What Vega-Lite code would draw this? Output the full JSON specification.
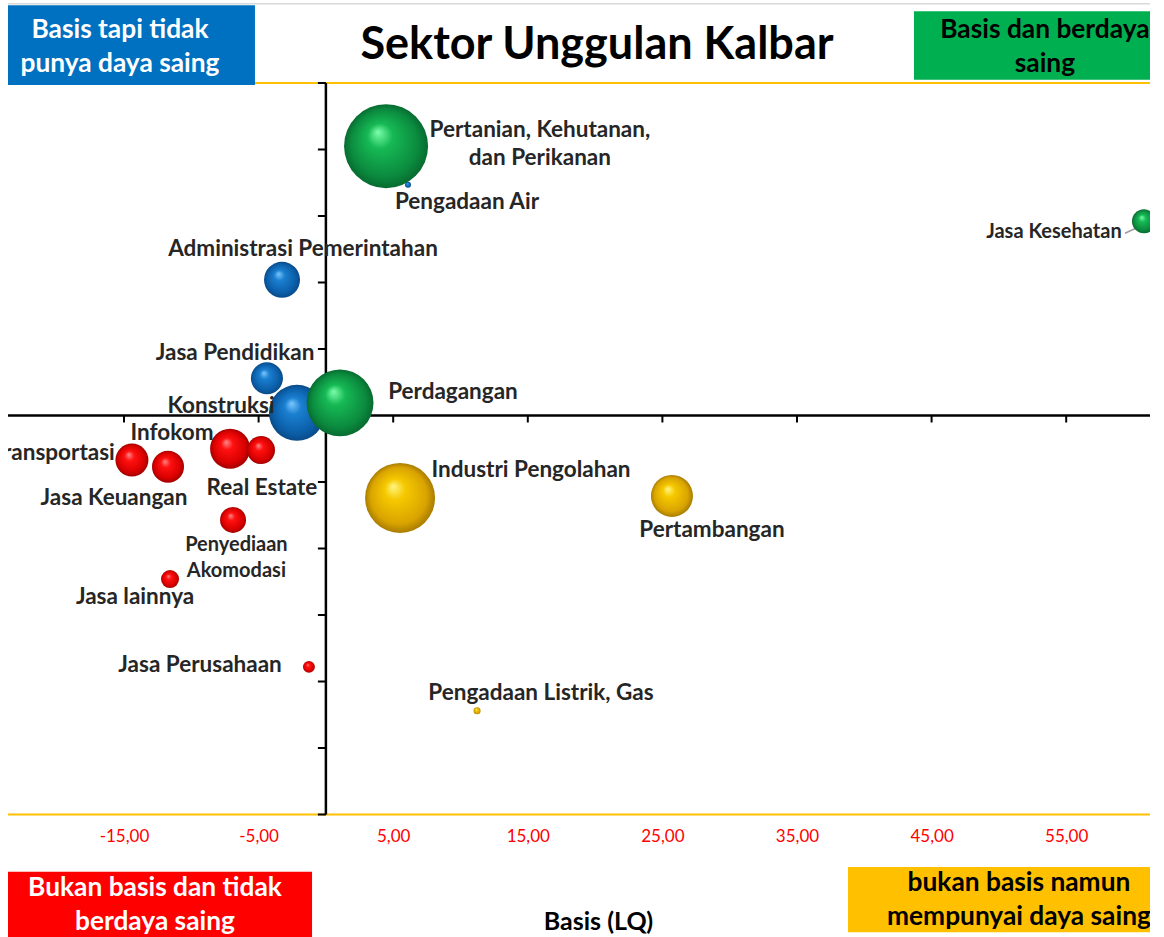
{
  "$schema": "https://vega.github.io/schema/vega-lite/v6.json",
  "width": 1142,
  "height": 937,
  "autosize": {"type": "none"},
  "padding": {"left": 8, "top": 0, "right": 14, "bottom": 0},
  "background": "white",
  "config": {"view": {"stroke": null}, "font": "Lato"},
  "datasets": {
    "sektor": [
      {"sektor": "Pertanian, Kehutanan, dan Perikanan", "kategori": "Basis dan berdaya saing", "x": 4.47, "y": 4.05, "nilai": 25.2},
      {"sektor": "Perdagangan", "kategori": "Basis dan berdaya saing", "x": 1.05, "y": 0.19, "nilai": 16.0},
      {"sektor": "Jasa Kesehatan", "kategori": "Basis dan berdaya saing", "x": 60.78, "y": 2.92, "nilai": 2.06},
      {"sektor": "Konstruksi", "kategori": "Basis tapi tidak punya daya saing", "x": -2.15, "y": 0.04, "nilai": 11.2},
      {"sektor": "Administrasi Pemerintahan", "kategori": "Basis tapi tidak punya daya saing", "x": -3.26, "y": 2.04, "nilai": 4.63},
      {"sektor": "Jasa Pendidikan", "kategori": "Basis tapi tidak punya daya saing", "x": -4.38, "y": 0.56, "nilai": 3.66},
      {"sektor": "Pengadaan Air", "kategori": "Basis tapi tidak punya daya saing", "x": 6.10, "y": 3.47, "nilai": 0.13},
      {"sektor": "Infokom", "kategori": "Bukan basis dan tidak berdaya saing", "x": -7.12, "y": -0.50, "nilai": 5.71},
      {"sektor": "Real Estate", "kategori": "Bukan basis dan tidak berdaya saing", "x": -4.82, "y": -0.52, "nilai": 2.8},
      {"sektor": "Transportasi", "kategori": "Bukan basis dan tidak berdaya saing", "x": -14.41, "y": -0.67, "nilai": 3.89},
      {"sektor": "Jasa Keuangan", "kategori": "Bukan basis dan tidak berdaya saing", "x": -11.73, "y": -0.77, "nilai": 3.66},
      {"sektor": "Penyediaan Akomodasi", "kategori": "Bukan basis dan tidak berdaya saing", "x": -6.90, "y": -1.57, "nilai": 2.41},
      {"sektor": "Jasa lainnya", "kategori": "Bukan basis dan tidak berdaya saing", "x": -11.58, "y": -2.46, "nilai": 1.16},
      {"sektor": "Jasa Perusahaan", "kategori": "Bukan basis dan tidak berdaya saing", "x": -1.26, "y": -3.78, "nilai": 0.51},
      {"sektor": "Industri Pengolahan", "kategori": "bukan basis namun mempunyai daya saing", "x": 5.51, "y": -1.24, "nilai": 17.5},
      {"sektor": "Pertambangan", "kategori": "bukan basis namun mempunyai daya saing", "x": 25.71, "y": -1.21, "nilai": 6.3},
      {"sektor": "Pengadaan Listrik, Gas", "kategori": "bukan basis namun mempunyai daya saing", "x": 11.23, "y": -4.44, "nilai": 0.18}
    ],
    "label": [
      {"sektor": "Pertanian, Kehutanan, dan Perikanan", "teks": "Pertanian, Kehutanan,\ndan Perikanan", "x": 15.9, "y": 4.29},
      {"sektor": "Pengadaan Air", "teks": "Pengadaan Air", "x": 10.48, "y": 3.21},
      {"sektor": "Administrasi Pemerintahan", "teks": "Administrasi Pemerintahan", "x": -1.70, "y": 2.50},
      {"sektor": "Jasa Pendidikan", "teks": "Jasa Pendidikan", "x": -6.75, "y": 0.94},
      {"sektor": "Konstruksi", "teks": "Konstruksi", "x": -7.79, "y": 0.14},
      {"sektor": "Perdagangan", "teks": "Perdagangan", "x": 9.44, "y": 0.35},
      {"sektor": "Infokom", "teks": "Infokom", "x": -11.43, "y": -0.26},
      {"sektor": "Transportasi", "teks": "Transportasi", "x": -20.25, "y": -0.56},
      {"sektor": "Jasa Keuangan", "teks": "Jasa Keuangan", "x": -15.74, "y": -1.24},
      {"sektor": "Real Estate", "teks": "Real Estate", "x": -4.75, "y": -1.09},
      {"sektor": "Penyediaan Akomodasi", "teks": "Penyediaan\nAkomodasi", "x": -6.65, "y": -1.95},
      {"sektor": "Jasa lainnya", "teks": "Jasa lainnya", "x": -14.18, "y": -2.73},
      {"sektor": "Jasa Perusahaan", "teks": "Jasa Perusahaan", "x": -9.35, "y": -3.75},
      {"sektor": "Industri Pengolahan", "teks": "Industri Pengolahan", "x": 15.24, "y": -0.82},
      {"sektor": "Pertambangan", "teks": "Pertambangan", "x": 28.68, "y": -1.72},
      {"sektor": "Pengadaan Listrik, Gas", "teks": "Pengadaan Listrik, Gas", "x": 15.98, "y": -4.17},
      {"sektor": "Jasa Kesehatan", "teks": "Jasa Kesehatan", "x": 54.09, "y": 2.76}
    ],
    "kotak": [
      {"kategori": "Basis tapi tidak punya daya saing", "teks": "Basis tapi tidak\npunya daya saing", "x": -25, "x2": -5.27, "y": 6.17, "y2": 4.97, "tx": -15.30, "ty": 5.80},
      {"kategori": "Basis dan berdaya saing", "teks": "Basis dan berdaya\nsaing", "x": 43.69, "x2": 65, "y": 6.08, "y2": 5.05, "tx": 53.42, "ty": 5.80},
      {"kategori": "Bukan basis dan tidak berdaya saing", "teks": "Bukan basis dan tidak\nberdaya saing", "x": -25, "x2": -1.03, "y": -6.86, "y2": -8, "tx": -12.70, "ty": -7.105},
      {"kategori": "bukan basis namun mempunyai daya saing", "teks": "bukan basis namun\nmempunyai daya saing", "x": 38.79, "x2": 65, "y": -6.79, "y2": -7.77, "tx": 51.49, "ty": -7.03}
    ],
    "garis": [
      {"jenis": "bingkai", "x": -25, "x2": 65, "y": 6.19, "y2": 6.19},
      {"jenis": "batas", "x": -25, "x2": 65, "y": 5, "y2": 5},
      {"jenis": "batas", "x": -25, "x2": 65, "y": -6, "y2": -6},
      {"jenis": "sumbu", "x": -25, "x2": 65, "y": 0, "y2": 0},
      {"jenis": "sumbu", "x": 0, "x2": 0, "y": -6, "y2": 5},
      {"jenis": "penunjuk", "x": 59.37, "x2": 60.63, "y": 2.74, "y2": 2.86}
    ],
    "tik": [
      {"sumbu": "x", "x": -15, "y": 0}, {"sumbu": "x", "x": -5, "y": 0}, {"sumbu": "x", "x": 5, "y": 0},
      {"sumbu": "x", "x": 15, "y": 0}, {"sumbu": "x", "x": 25, "y": 0}, {"sumbu": "x", "x": 35, "y": 0},
      {"sumbu": "x", "x": 45, "y": 0}, {"sumbu": "x", "x": 55, "y": 0},
      {"sumbu": "y", "x": 0, "y": 5}, {"sumbu": "y", "x": 0, "y": 4}, {"sumbu": "y", "x": 0, "y": 3},
      {"sumbu": "y", "x": 0, "y": 2}, {"sumbu": "y", "x": 0, "y": 1}, {"sumbu": "y", "x": 0, "y": -1},
      {"sumbu": "y", "x": 0, "y": -2}, {"sumbu": "y", "x": 0, "y": -3}, {"sumbu": "y", "x": 0, "y": -4},
      {"sumbu": "y", "x": 0, "y": -5}, {"sumbu": "y", "x": 0, "y": -6}
    ],
    "judul": [
      {"teks": "Sektor Unggulan Kalbar", "x": 20.14, "y": 5.57}
    ]
  },
  "encoding": {
    "x": {
      "field": "x", "type": "quantitative",
      "scale": {"domain": [-23.618, 61.226], "nice": false, "zero": false},
      "axis": {
        "orient": "bottom", "offset": -109,
        "values": [-25, -15, -5, 5, 15, 25, 35, 45, 55],
        "labelExpr": "replace(replace(format(datum.value, '.2f'), '.', ','), '−', '-')",
        "ticks": false, "domain": false, "grid": false,
        "labelColor": "#FF0000", "labelFont": "Lato", "labelFontSize": 17,
        "labelPadding": 0, "labelFlush": false, "labelOverlap": false, "labelBound": false,
        "title": "Basis (LQ)", "titleFont": "Lato", "titleFontSize": 25, "titleFontWeight": "bold",
        "titleColor": "#000000", "titlePadding": 65, "titleX": 590
      }
    },
    "y": {
      "field": "y", "type": "quantitative",
      "scale": {"domain": [-7.842, 6.248], "nice": false, "zero": false},
      "axis": null
    }
  },
  "layer": [
    {
      "data": {"name": "garis"},
      "transform": [{"filter": "datum.jenis === 'bingkai'"}],
      "mark": {"type": "rule", "color": "#d9d9d9", "strokeWidth": 1.5, "clip": true},
      "encoding": {"x2": {"field": "x2"}, "y2": {"field": "y2"}}
    },
    {
      "data": {"name": "garis"},
      "transform": [{"filter": "datum.jenis === 'batas'"}],
      "mark": {"type": "rule", "color": "#FFC000", "strokeWidth": 2, "clip": true},
      "encoding": {"x2": {"field": "x2"}, "y2": {"field": "y2"}}
    },
    {
      "data": {"name": "garis"},
      "transform": [{"filter": "datum.jenis === 'sumbu'"}],
      "mark": {"type": "rule", "color": "#000000", "strokeWidth": 2.5, "clip": true},
      "encoding": {"x2": {"field": "x2"}, "y2": {"field": "y2"}}
    },
    {
      "data": {"name": "garis"},
      "transform": [{"filter": "datum.jenis === 'penunjuk'"}],
      "mark": {"type": "rule", "color": "#9a9a9a", "strokeWidth": 1.5, "clip": true},
      "encoding": {"x2": {"field": "x2"}, "y2": {"field": "y2"}}
    },
    {
      "data": {"name": "tik"},
      "transform": [{"filter": "datum.sumbu === 'x'"}],
      "mark": {"type": "tick", "orient": "vertical", "size": 7, "thickness": 2, "yOffset": 3.5, "color": "#000000", "opacity": 1},
      "encoding": {}
    },
    {
      "data": {"name": "tik"},
      "transform": [{"filter": "datum.sumbu === 'y'"}],
      "mark": {"type": "tick", "orient": "horizontal", "size": 8, "thickness": 2, "xOffset": -4, "color": "#000000", "opacity": 1},
      "encoding": {}
    },
    {
      "data": {"name": "sektor"},
      "transform": [{"filter": "datum.kategori === 'Basis tapi tidak punya daya saing'"}],
      "mark": {"type": "circle", "opacity": 1, "strokeWidth": 0, "clip": true,
        "fill": {"gradient": "radial", "x1": 0.4, "y1": 0.33, "r1": 0, "x2": 0.5, "y2": 0.5, "r2": 0.5,
          "stops": [{"offset": 0, "color": "#7cc8ff"}, {"offset": 0.3, "color": "#1a7fd0"}, {"offset": 0.8, "color": "#0b5ea8"}, {"offset": 1, "color": "#0a4a88"}]}},
      "encoding": {"size": {"field": "nilai", "type": "quantitative", "scale": {"domain": [0, 25], "range": [0, 7000]}, "legend": null}}
    },
    {
      "data": {"name": "sektor"},
      "transform": [{"filter": "datum.kategori === 'Bukan basis dan tidak berdaya saing'"}],
      "mark": {"type": "circle", "opacity": 1, "strokeWidth": 0, "clip": true,
        "fill": {"gradient": "radial", "x1": 0.4, "y1": 0.33, "r1": 0, "x2": 0.5, "y2": 0.5, "r2": 0.5,
          "stops": [{"offset": 0, "color": "#ff8a8a"}, {"offset": 0.3, "color": "#ff1010"}, {"offset": 0.8, "color": "#d80000"}, {"offset": 1, "color": "#a00000"}]}},
      "encoding": {"size": {"field": "nilai", "type": "quantitative", "scale": {"domain": [0, 25], "range": [0, 7000]}, "legend": null}}
    },
    {
      "data": {"name": "sektor"},
      "transform": [{"filter": "datum.kategori === 'bukan basis namun mempunyai daya saing'"}],
      "mark": {"type": "circle", "opacity": 1, "strokeWidth": 0, "clip": true,
        "fill": {"gradient": "radial", "x1": 0.4, "y1": 0.33, "r1": 0, "x2": 0.5, "y2": 0.5, "r2": 0.5,
          "stops": [{"offset": 0, "color": "#fff680"}, {"offset": 0.3, "color": "#f5c800"}, {"offset": 0.8, "color": "#d9a400"}, {"offset": 1, "color": "#a87c00"}]}},
      "encoding": {"size": {"field": "nilai", "type": "quantitative", "scale": {"domain": [0, 25], "range": [0, 7000]}, "legend": null}}
    },
    {
      "data": {"name": "sektor"},
      "transform": [{"filter": "datum.kategori === 'Basis dan berdaya saing'"}],
      "mark": {"type": "circle", "opacity": 1, "strokeWidth": 0, "clip": true,
        "fill": {"gradient": "radial", "x1": 0.4, "y1": 0.33, "r1": 0, "x2": 0.5, "y2": 0.5, "r2": 0.5,
          "stops": [{"offset": 0, "color": "#7dffac"}, {"offset": 0.3, "color": "#16b955"}, {"offset": 0.8, "color": "#0b8a3e"}, {"offset": 1, "color": "#076b30"}]}},
      "encoding": {"size": {"field": "nilai", "type": "quantitative", "scale": {"domain": [0, 25], "range": [0, 7000]}, "legend": null}}
    },
    {
      "data": {"name": "label"},
      "transform": [{"filter": "datum.sektor !== 'Jasa Kesehatan' && datum.sektor !== 'Penyediaan Akomodasi'"}],
      "mark": {"type": "text", "font": "Lato", "fontWeight": "bold", "fontSize": 22.5, "color": "#262626", "align": "center", "baseline": "middle", "lineBreak": "\n", "lineHeight": 28, "clip": true},
      "encoding": {"text": {"field": "teks", "type": "nominal"}}
    },
    {
      "data": {"name": "label"},
      "transform": [{"filter": "datum.sektor === 'Jasa Kesehatan' || datum.sektor === 'Penyediaan Akomodasi'"}],
      "mark": {"type": "text", "font": "Lato", "fontWeight": "bold", "fontSize": 20, "color": "#262626", "align": "center", "baseline": "middle", "lineBreak": "\n", "lineHeight": 26, "clip": true},
      "encoding": {"text": {"field": "teks", "type": "nominal"}}
    },
    {
      "data": {"name": "kotak"},
      "mark": {"type": "rect", "clip": true, "opacity": 1},
      "encoding": {
        "x2": {"field": "x2"}, "y2": {"field": "y2"},
        "color": {"field": "kategori", "type": "nominal", "legend": null,
          "scale": {"domain": ["Basis tapi tidak punya daya saing", "Basis dan berdaya saing", "Bukan basis dan tidak berdaya saing", "bukan basis namun mempunyai daya saing"],
            "range": ["#0070C0", "#00B050", "#FF0000", "#FFC000"]}}
      }
    },
    {
      "data": {"name": "kotak"},
      "mark": {"type": "text", "font": "Lato", "fontWeight": "bold", "fontSize": 26.3, "align": "center", "baseline": "middle", "lineBreak": "\n", "lineHeight": 34, "clip": true},
      "encoding": {
        "x": {"field": "tx", "type": "quantitative"},
        "y": {"field": "ty", "type": "quantitative"},
        "text": {"field": "teks", "type": "nominal"},
        "color": {"condition": {"test": "datum.kategori === 'Basis tapi tidak punya daya saing' || datum.kategori === 'Bukan basis dan tidak berdaya saing'", "value": "#ffffff"}, "value": "#000000"}
      }
    },
    {
      "data": {"name": "judul"},
      "mark": {"type": "text", "font": "Lato", "fontWeight": "bold", "fontSize": 45, "color": "#000000", "align": "center", "baseline": "middle"},
      "encoding": {"text": {"field": "teks", "type": "nominal"}}
    }
  ]
}
